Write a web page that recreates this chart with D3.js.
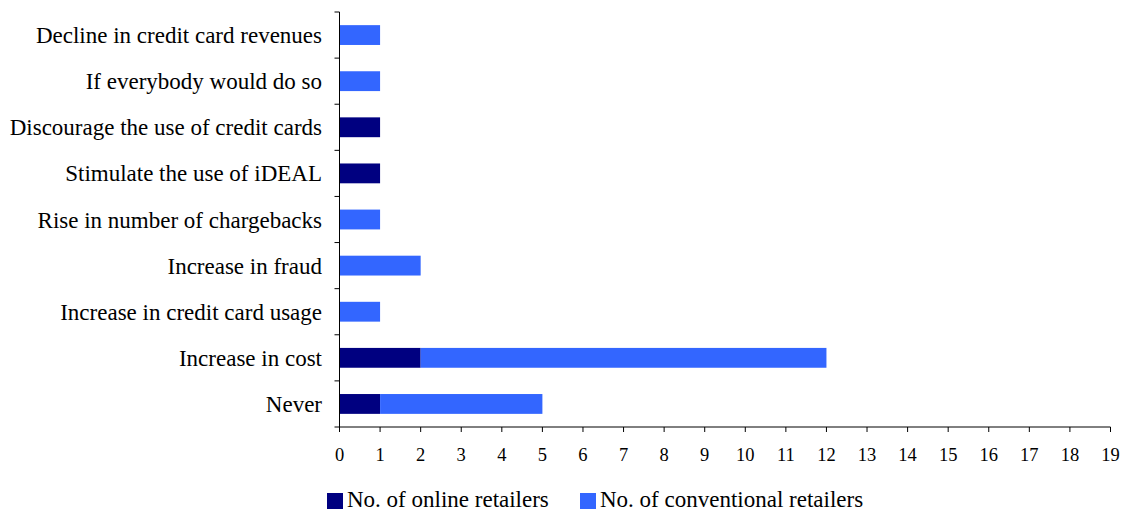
<!DOCTYPE html>
<html>
<head>
<meta charset="utf-8">
<script src="https://cdn.jsdelivr.net/npm/d3@7"></script>
<style>
  html, body { margin: 0; padding: 0; background: #fff; }
  svg { display: block; font-family: "Liberation Serif", "Times New Roman", serif; }
</style>
</head>
<body>
<svg id="chart" width="1126" height="512"></svg>
<script>
// Reasons categories, listed top to bottom
const categories = [
  "Decline in credit card revenues",
  "If everybody would do so",
  "Discourage the use of credit cards",
  "Stimulate the use of iDEAL",
  "Rise in number of chargebacks",
  "Increase in fraud",
  "Increase in credit card usage",
  "Increase in cost",
  "Never"
];
const onlineRetailers       = [0, 0, 1, 1, 0, 0, 0, 2, 1];
const conventionalRetailers = [1, 1, 0, 0, 1, 2, 1, 10, 4];
const seriesNames = ["No. of online retailers", "No. of conventional retailers"];
const seriesColors = ["#000080", "#3366FF"];
const xTicks = d3.range(0, 20);

const svg = d3.select("#chart");
const x0 = 339.5, x1 = 1110.5, yTop = 12, yBottom = 427;

const x = d3.scaleLinear().domain([0, 19]).range([x0, x1]);
const y = d3.scaleBand().domain(categories).range([yTop, yBottom]).paddingInner(0.57).paddingOuter(0.285);
const yBands = d3.scaleBand().domain(categories).range([yTop, yBottom]);

const rows = categories.map((c, i) => ({ cat: c, vals: [onlineRetailers[i], conventionalRetailers[i]] }));
const stackData = d3.stack().keys([0, 1]).value((d, k) => d.vals[k])(rows);

stackData.forEach((layer, k) => {
  svg.append("g").attr("fill", seriesColors[k])
    .selectAll("rect").data(layer).join("rect")
    .attr("x", d => x(d[0]))
    .attr("y", d => y(d.data.cat))
    .attr("width", d => x(d[1]) - x(d[0]))
    .attr("height", y.bandwidth());
});

// Axes
const axisColor = "#000";
const gx = svg.append("g").attr("transform", `translate(0,${yBottom})`);
gx.append("line").attr("x1", x0).attr("x2", x1).attr("stroke", axisColor);
gx.selectAll("line.tick").data(xTicks).join("line")
  .attr("x1", d => x(d)).attr("x2", d => x(d)).attr("y1", 0).attr("y2", 5)
  .attr("stroke", axisColor);
gx.selectAll("text").data(xTicks).join("text")
  .attr("x", d => x(d)).attr("y", 34)
  .attr("text-anchor", "middle").attr("font-size", 18.5).attr("fill", "#000")
  .text(d => d);

const gy = svg.append("g");
gy.append("line").attr("x1", x0).attr("x2", x0).attr("y1", yTop).attr("y2", yBottom).attr("stroke", axisColor);
const yTickPos = categories.map(c => yBands(c)).concat([yBottom]);
gy.selectAll("line.tick").data(yTickPos).join("line")
  .attr("x1", x0 - 5).attr("x2", x0).attr("y1", d => d).attr("y2", d => d)
  .attr("stroke", axisColor);
gy.selectAll("text").data(categories).join("text")
  .attr("x", 322).attr("y", c => yBands(c) + yBands.bandwidth() / 2)
  .attr("dy", "0.35em").attr("text-anchor", "end").attr("font-size", 23).attr("fill", "#000")
  .text(c => c);

// Legend
const legendX = [327, 580];
const leg = svg.append("g");
seriesNames.forEach((name, k) => {
  leg.append("rect").attr("x", legendX[k]).attr("y", 493).attr("width", 16).attr("height", 16).attr("fill", seriesColors[k]);
  leg.append("text").attr("x", legendX[k] + 20).attr("y", 507).attr("font-size", 23).attr("fill", "#000").text(name);
});
</script>
</body>
</html>
